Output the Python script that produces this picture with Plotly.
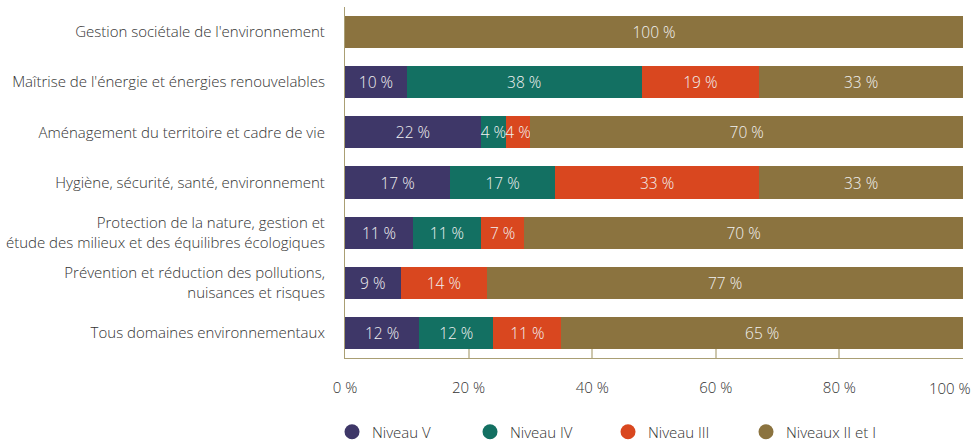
import plotly.graph_objects as go

categories = [
    "Gestion sociétale de l'environnement",
    "Maîtrise de l'énergie et énergies renouvelables",
    "Aménagement du territoire et cadre de vie",
    "Hygiène, sécurité, santé, environnement",
    "Protection de la nature, gestion et<br>étude des milieux et des équilibres écologiques",
    "Prévention et réduction des pollutions,<br>nuisances et risques",
    "Tous domaines environnementaux",
]
# bar lengths
niveau_v = [0, 10, 22, 17, 11, 9, 12]
niveau_iv = [0, 38, 4, 17, 11, 0, 12]
niveau_iii = [0, 19, 4, 33, 7, 14, 11]
niveaux_ii_i = [100, 33, 70, 33, 71, 77, 65]
# labels printed on the bars (rounded as shown)
labels_v = [None, 10, 22, 17, 11, 9, 12]
labels_iv = [None, 38, 4, 17, 11, None, 12]
labels_iii = [None, 19, 4, 33, 7, 14, 11]
labels_ii_i = [100, 33, 70, 33, 70, 77, 65]

series_names = ["Niveau V", "Niveau IV", "Niveau III", "Niveaux II et I"]
series_values = [niveau_v, niveau_iv, niveau_iii, niveaux_ii_i]
series_labels = [labels_v, labels_iv, labels_iii, labels_ii_i]
colors = ["#3e3768", "#137062", "#d9471f", "#8b733f"]

tick_vals = [0, 20, 40, 60, 80, 100]
tick_text = ["0 %", "20 %", "40 %", "60 %", "80 %", "100 %"]

FONT = "Open Sans"
fig = go.Figure()
for name, vals, labs, col in zip(series_names, series_values, series_labels, colors):
    fig.add_trace(go.Bar(
        y=categories, x=vals, orientation="h", name=name,
        marker=dict(color=col, line=dict(width=0)),
        text=[f"{v} %" if v else "" for v in labs],
        textposition="inside", insidetextanchor="middle",
        constraintext="none", textangle=0, cliponaxis=False,
        textfont=dict(color="#f2f2f2", size=15.5, family=FONT, weight=300),
        showlegend=False, hoverinfo="skip",
    ))
for name, col in zip(series_names, colors):
    fig.add_trace(go.Scatter(
        x=[None], y=[None], mode="markers", name=name,
        marker=dict(symbol="circle", size=15, color=col),
        showlegend=True,
    ))

# last tick label is right-aligned to stay inside the page
fig.add_annotation(
    x=tick_vals[-1], xref="x", xanchor="right", xshift=10,
    y=0, yref="paper", yanchor="middle", yshift=-30,
    text=tick_text[-1], showarrow=False,
    font=dict(family=FONT, size=15, color="#333333", weight=300),
)

fig.update_layout(
    width=973, height=443,
    margin=dict(l=345, r=10, t=7, b=85, autoexpand=False),
    barmode="stack", bargap=0.36,
    plot_bgcolor="white", paper_bgcolor="white",
    font=dict(family=FONT, size=15, color="#333333", weight=300),
    legend=dict(
        orientation="h", traceorder="normal",
        x=-0.021, xanchor="left", y=-0.211, yanchor="middle",
        entrywidthmode="pixels", entrywidth=93, itemwidth=30,
        font=dict(size=15, family=FONT, color="#333333", weight=300),
    ),
    xaxis=dict(
        range=[0, 100], tickvals=tick_vals, ticktext=tick_text[:-1] + [""],
        showgrid=False, zeroline=False, automargin=False,
        showline=True, linecolor="#aa9f74", linewidth=1.2,
        ticks="inside", ticklen=9, tickcolor="#cdc7ad", tickwidth=1.5,
        ticklabelstandoff=16, fixedrange=True,
    ),
    yaxis=dict(
        autorange="reversed", showgrid=False, zeroline=False, automargin=False,
        showline=True, linecolor="#aa9f74", linewidth=1.2,
        ticks="", ticklabelstandoff=16, fixedrange=True,
    ),
)

fig.write_html("out.html", config={"displayModeBar": False},
               post_script="document.body.style.margin='0px';")
